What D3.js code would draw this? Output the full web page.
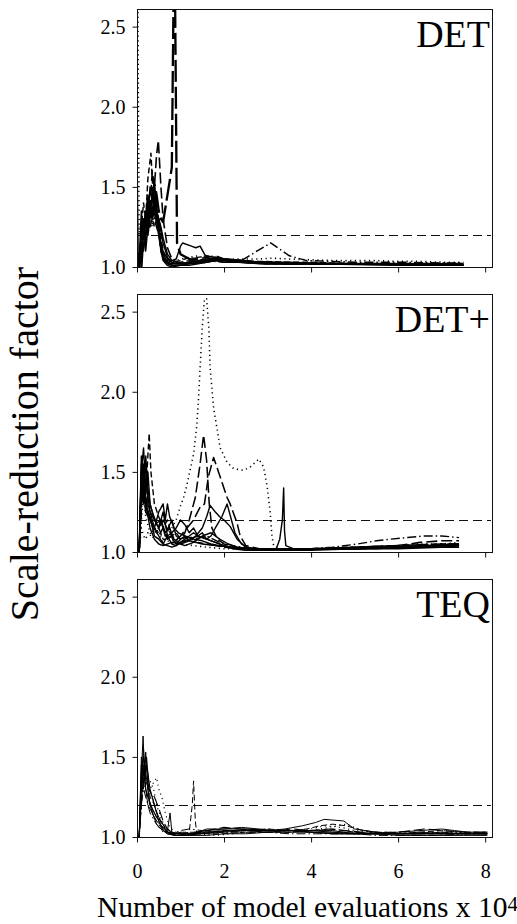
<!DOCTYPE html>
<html><head><meta charset="utf-8">
<script src="https://cdn.jsdelivr.net/npm/d3@7"></script>
<style>
body{margin:0;background:#fff} svg{display:block}
svg text{font-family:'Liberation Serif','Times New Roman',Times,serif;}
</style>
</head><body>
<svg id="chart" width="517" height="924"></svg>
<script>
// ---------------- data ----------------
const panelNames = ["DET", "DET+", "TEQ"];
const xTickValues = [0, 2, 4, 6, 8];
const xTickLabels = ["0", "2", "4", "6", "8"];
const yTickValues = [1.0, 1.5, 2.0, 2.5];
const yTickLabels = ["1.0", "1.5", "2.0", "2.5"];
const threshold = 1.2;
const yTitle = "Scale-reduction factor";
const xTitle = "Number of model evaluations x 10";
const xTitleExp = "4";

// each run: [x (x 10^4 evaluations), scale-reduction factor]
const detRuns = [
  [[0.05,1.0],[0.1,1.35],[0.15,1.2],[0.2,1.3],[0.25,1.25],[0.3,1.38],[0.35,1.3],[0.4,1.35],[0.45,1.28],[0.5,1.3],[0.55,1.22],[0.6,1.15],[0.7,1.06],[0.8,1.03],[0.9,1.02],[1.0,1.02],[1.2,1.03],[1.4,1.04],[1.6,1.05],[1.8,1.06],[2.0,1.05],[2.4,1.04],[2.8,1.03],[3.5,1.03],[4.0,1.025],[5.0,1.02],[6.0,1.02],[7.0,1.015],[7.5,1.015]],
  [[0.05,1.0],[0.1,1.2],[0.15,1.3],[0.2,1.15],[0.25,1.4],[0.3,1.3],[0.35,1.45],[0.4,1.5],[0.45,1.35],[0.5,1.3],[0.55,1.25],[0.6,1.18],[0.7,1.08],[0.8,1.04],[0.9,1.05],[1.0,1.13],[1.05,1.15],[1.25,1.13],[1.35,1.12],[1.45,1.13],[1.55,1.08],[1.68,1.04],[1.8,1.04],[2.0,1.03],[2.4,1.03],[3.0,1.02],[4.0,1.02],[5.0,1.02],[6.0,1.015],[7.0,1.01],[7.5,1.01]],
  [[0.05,1.0],[0.1,1.25],[0.15,1.4],[0.2,1.3],[0.25,1.55],[0.32,1.71],[0.37,1.45],[0.42,1.3],[0.47,1.35],[0.52,1.25],[0.57,1.15],[0.62,1.08],[0.7,1.04],[0.8,1.03],[1.0,1.04],[1.2,1.06],[1.4,1.05],[1.6,1.04],[2.0,1.03],[2.4,1.03],[3.0,1.02],[4.0,1.02],[5.0,1.02],[6.0,1.015],[7.0,1.01],[7.5,1.01]],
  [[0.05,1.0],[0.1,1.1],[0.15,1.3],[0.2,1.25],[0.25,1.45],[0.3,1.35],[0.35,1.6],[0.4,1.5],[0.45,1.7],[0.49,1.79],[0.55,1.5],[0.6,1.3],[0.7,1.12],[0.8,1.05],[0.9,1.03],[1.0,1.02],[1.2,1.03],[1.4,1.05],[1.6,1.06],[1.8,1.07],[2.0,1.05],[2.4,1.04],[2.8,1.03],[3.5,1.02],[4.0,1.02],[5.0,1.02],[6.0,1.02],[7.0,1.015],[7.5,1.015]],
  [[0.1,1.0],[0.15,1.2],[0.2,1.3],[0.25,1.25],[0.3,1.35],[0.35,1.4],[0.4,1.52],[0.45,1.45],[0.5,1.35],[0.55,1.3],[0.6,1.28],[0.7,1.45],[0.8,1.62],[0.86,3.2],[0.92,1.15],[1.0,1.08],[1.2,1.05],[1.4,1.04],[1.6,1.04],[1.8,1.05],[2.0,1.04],[2.4,1.03],[2.8,1.03],[3.5,1.02],[4.0,1.02],[5.0,1.02],[6.0,1.02],[7.0,1.02],[7.5,1.02]],
  [[0,3.5],[0.05,1.2],[0.1,1.3],[0.15,1.15],[0.2,1.25],[0.25,1.2],[0.3,1.3],[0.35,1.25],[0.4,1.35],[0.45,1.3],[0.5,1.2],[0.55,1.15],[0.6,1.1],[0.7,1.05],[0.8,1.03],[1.0,1.05],[1.2,1.06],[1.4,1.07],[1.6,1.05],[1.8,1.06],[2.0,1.05],[2.4,1.05],[2.8,1.05],[3.1,1.055],[3.5,1.05],[4.0,1.045],[4.5,1.04],[5.0,1.04],[5.5,1.04],[6.0,1.035],[6.5,1.035],[7.0,1.03],[7.5,1.03]],
  [[0,1.71],[0.03,1.0],[0.1,1.2],[0.15,1.3],[0.2,1.1],[0.25,1.25],[0.3,1.35],[0.35,1.3],[0.4,1.42],[0.45,1.3],[0.5,1.2],[0.55,1.12],[0.6,1.06],[0.7,1.03],[0.8,1.02],[1.0,1.02],[1.4,1.03],[1.6,1.03],[1.8,1.04],[2.0,1.04],[2.4,1.03],[3.0,1.02],[4.0,1.02],[5.0,1.015],[6.0,1.01],[7.0,1.01],[7.5,1.01]],
  [[0.05,1.0],[0.1,1.15],[0.15,1.25],[0.2,1.35],[0.25,1.2],[0.3,1.3],[0.35,1.4],[0.4,1.3],[0.45,1.25],[0.5,1.2],[0.55,1.15],[0.6,1.1],[0.7,1.05],[0.8,1.03],[1.0,1.02],[1.2,1.03],[1.6,1.04],[2.0,1.05],[2.4,1.04],[2.7,1.09],[3.07,1.15],[3.5,1.07],[3.9,1.04],[4.5,1.035],[5.0,1.03],[6.0,1.03],[7.0,1.025],[7.5,1.025]],
  [[0.1,1.0],[0.15,1.25],[0.2,1.35],[0.25,1.3],[0.3,1.5],[0.35,1.4],[0.4,1.52],[0.45,1.38],[0.5,1.25],[0.55,1.15],[0.6,1.08],[0.7,1.03],[0.8,1.01],[1.0,1.01],[1.2,1.02],[1.4,1.03],[1.6,1.04],[1.8,1.06],[2.0,1.05],[2.4,1.04],[2.8,1.03],[3.5,1.02],[4.5,1.02],[5.5,1.02],[6.5,1.015],[7.5,1.01]],
  [[0.05,1.0],[0.1,1.3],[0.15,1.1],[0.2,1.2],[0.25,1.35],[0.3,1.25],[0.35,1.3],[0.4,1.38],[0.45,1.33],[0.5,1.22],[0.55,1.12],[0.6,1.06],[0.7,1.02],[0.8,1.01],[1.0,1.01],[1.2,1.01],[1.4,1.02],[1.6,1.03],[1.8,1.05],[2.0,1.04],[2.4,1.03],[3.0,1.03],[3.5,1.025],[4.5,1.02],[5.5,1.02],[6.5,1.02],[7.5,1.02]],
  [[0.05,1.0],[0.1,1.12],[0.15,1.22],[0.2,1.3],[0.25,1.45],[0.3,1.35],[0.35,1.3],[0.4,1.25],[0.45,1.3],[0.5,1.22],[0.55,1.1],[0.6,1.05],[0.7,1.02],[0.8,1.02],[1.0,1.03],[1.2,1.04],[1.4,1.06],[1.6,1.07],[1.8,1.06],[2.0,1.05],[2.4,1.04],[2.8,1.035],[3.5,1.03],[4.0,1.03],[4.5,1.025],[5.5,1.02],[6.5,1.02],[7.5,1.02]],
  [[0.05,1.0],[0.1,1.1],[0.15,1.2],[0.2,1.28],[0.25,1.2],[0.3,1.4],[0.35,1.32],[0.4,1.45],[0.45,1.3],[0.5,1.2],[0.55,1.1],[0.6,1.04],[0.7,1.01],[0.8,1.0],[1.0,1.01],[1.2,1.02],[1.6,1.03],[1.8,1.04],[2.0,1.04],[2.4,1.03],[2.8,1.02],[3.5,1.02],[4.5,1.02],[5.5,1.015],[6.5,1.01],[7.5,1.01]]
];
const detTypes = ["solid","solid","dash","longdash","heavy","dot","solid","dashdot","solid","solid","dash","solid"];

const detPlusRuns = [
  [[0.05,1.0],[0.1,1.45],[0.15,1.3],[0.2,1.6],[0.25,1.4],[0.3,1.3],[0.4,1.2],[0.5,1.15],[0.6,1.25],[0.7,1.1],[0.8,1.05],[0.9,1.04],[1.0,1.06],[1.2,1.08],[1.4,1.1],[1.6,1.08],[1.8,1.06],[2.0,1.04],[2.2,1.02],[2.5,1.01],[3.0,1.01],[3.5,1.02],[4.0,1.02],[4.5,1.02],[5.0,1.02],[5.5,1.03],[6.0,1.03],[6.5,1.03],[7.0,1.04],[7.4,1.04]],
  [[0.05,1.0],[0.1,1.5],[0.15,1.65],[0.2,1.4],[0.25,1.5],[0.3,1.3],[0.35,1.25],[0.45,1.18],[0.55,1.2],[0.65,1.12],[0.75,1.15],[0.85,1.08],[1.0,1.05],[1.1,1.04],[1.3,1.06],[1.5,1.1],[1.7,1.12],[1.9,1.08],[2.1,1.05],[2.3,1.03],[2.6,1.02],[3.0,1.02],[3.5,1.02],[4.0,1.02],[5.0,1.02],[6.0,1.03],[7.0,1.04],[7.4,1.05]],
  [[0.05,1.0],[0.1,1.3],[0.15,1.45],[0.2,1.35],[0.25,1.6],[0.28,1.74],[0.32,1.5],[0.4,1.3],[0.5,1.22],[0.6,1.15],[0.7,1.2],[0.8,1.1],[0.9,1.12],[1.0,1.08],[1.2,1.1],[1.4,1.06],[1.6,1.05],[1.8,1.04],[2.0,1.03],[2.4,1.02],[3.0,1.02],[4.0,1.02],[5.0,1.03],[6.0,1.04],[7.0,1.05],[7.4,1.05]],
  [[0.05,1.0],[0.1,1.2],[0.15,1.35],[0.2,1.22],[0.3,1.12],[0.4,1.08],[0.5,1.1],[0.6,1.06],[0.7,1.12],[0.8,1.15],[0.9,1.2],[0.99,1.28],[1.07,1.34],[1.14,1.41],[1.22,1.51],[1.3,1.61],[1.37,1.78],[1.41,1.94],[1.45,2.15],[1.5,2.4],[1.55,2.58],[1.6,2.58],[1.65,2.4],[1.68,2.15],[1.76,1.9],[1.91,1.65],[2.07,1.56],[2.22,1.52],[2.45,1.51],[2.6,1.53],[2.8,1.58],[2.91,1.53],[2.99,1.41],[3.06,1.25],[3.1,1.1],[3.14,1.04],[3.3,1.02],[3.6,1.02],[4.0,1.02],[4.5,1.02],[5.0,1.03],[5.5,1.03],[6.0,1.04],[6.5,1.05],[7.0,1.05],[7.4,1.06]],
  [[0.05,1.0],[0.1,1.4],[0.15,1.55],[0.2,1.3],[0.3,1.2],[0.4,1.15],[0.5,1.1],[0.6,1.15],[0.7,1.08],[0.8,1.1],[0.9,1.05],[1.0,1.08],[1.1,1.12],[1.2,1.2],[1.34,1.34],[1.45,1.55],[1.53,1.73],[1.6,1.57],[1.66,1.3],[1.72,1.15],[1.85,1.08],[2.0,1.05],[2.3,1.03],[2.6,1.02],[3.0,1.02],[4.0,1.02],[5.0,1.03],[6.0,1.04],[6.5,1.06],[7.0,1.07],[7.4,1.07]],
  [[0.05,1.0],[0.1,1.3],[0.15,1.5],[0.2,1.35],[0.25,1.25],[0.35,1.18],[0.45,1.12],[0.55,1.2],[0.65,1.1],[0.75,1.13],[0.85,1.06],[1.0,1.1],[1.15,1.15],[1.3,1.2],[1.45,1.28],[1.55,1.3],[1.64,1.47],[1.76,1.59],[1.91,1.47],[2.07,1.34],[2.14,1.3],[2.3,1.18],[2.37,1.1],[2.5,1.04],[2.8,1.02],[3.2,1.02],[4.0,1.02],[5.0,1.03],[6.0,1.04],[7.0,1.05],[7.4,1.05]],
  [[0.05,1.0],[0.1,1.55],[0.15,1.35],[0.2,1.45],[0.3,1.25],[0.4,1.2],[0.5,1.15],[0.6,1.2],[0.7,1.14],[0.8,1.2],[0.9,1.1],[1.0,1.08],[1.1,1.1],[1.2,1.07],[1.35,1.1],[1.5,1.15],[1.6,1.22],[1.68,1.29],[1.8,1.25],[1.9,1.22],[2.0,1.2],[2.14,1.16],[2.3,1.08],[2.5,1.03],[2.8,1.02],[3.5,1.02],[4.5,1.02],[5.5,1.03],[6.5,1.04],[7.4,1.05]],
  [[0.05,1.0],[0.1,1.42],[0.15,1.5],[0.2,1.3],[0.3,1.22],[0.4,1.1],[0.5,1.08],[0.6,1.05],[0.7,1.1],[0.8,1.12],[0.9,1.15],[1.0,1.2],[1.1,1.17],[1.2,1.12],[1.3,1.15],[1.4,1.1],[1.5,1.12],[1.6,1.08],[1.7,1.1],[1.8,1.15],[1.95,1.22],[2.07,1.3],[2.15,1.22],[2.25,1.12],[2.4,1.05],[2.6,1.02],[3.0,1.01],[4.0,1.02],[5.0,1.02],[6.0,1.03],[7.0,1.04],[7.4,1.04]],
  [[0.05,1.0],[0.1,1.35],[0.15,1.55],[0.2,1.3],[0.3,1.15],[0.4,1.08],[0.5,1.05],[0.6,1.04],[0.8,1.06],[1.0,1.05],[1.2,1.07],[1.5,1.05],[1.8,1.04],[2.2,1.03],[2.6,1.02],[3.0,1.01],[3.2,1.02],[3.28,1.08],[3.34,1.2],[3.37,1.4],[3.39,1.13],[3.42,1.04],[3.6,1.02],[4.0,1.02],[4.5,1.02],[5.0,1.02],[5.5,1.02],[6.0,1.03],[6.5,1.03],[7.0,1.03],[7.4,1.03]],
  [[0.05,1.0],[0.1,1.25],[0.15,1.45],[0.2,1.25],[0.3,1.2],[0.4,1.12],[0.5,1.15],[0.6,1.08],[0.8,1.1],[1.0,1.06],[1.3,1.08],[1.6,1.1],[1.9,1.06],[2.2,1.04],[2.6,1.02],[3.0,1.02],[3.5,1.02],[4.0,1.02],[4.5,1.03],[5.06,1.05],[5.5,1.07],[5.83,1.08],[6.2,1.09],[6.6,1.1],[7.0,1.1],[7.4,1.09]],
  [[0.05,1.0],[0.1,1.6],[0.15,1.45],[0.2,1.55],[0.25,1.3],[0.3,1.25],[0.4,1.15],[0.5,1.1],[0.6,1.05],[0.7,1.04],[0.8,1.03],[0.9,1.04],[1.0,1.06],[1.1,1.08],[1.2,1.1],[1.3,1.12],[1.4,1.1],[1.6,1.08],[1.8,1.06],[2.0,1.04],[2.3,1.02],[2.6,1.01],[3.0,1.01],[4.0,1.01],[5.0,1.02],[6.0,1.02],[7.0,1.03],[7.4,1.03]],
  [[0.05,1.0],[0.1,1.5],[0.15,1.4],[0.2,1.25],[0.3,1.2],[0.4,1.15],[0.5,1.25],[0.6,1.3],[0.65,1.2],[0.7,1.3],[0.75,1.22],[0.85,1.15],[0.95,1.12],[1.1,1.1],[1.3,1.08],[1.5,1.07],[1.7,1.05],[1.9,1.04],[2.2,1.03],[2.6,1.02],[3.0,1.02],[4.0,1.02],[5.0,1.02],[6.0,1.03],[7.0,1.03],[7.4,1.04]],
  [[0.05,1.0],[0.1,1.15],[0.15,1.1],[0.2,1.08],[0.25,1.12],[0.3,1.1],[0.4,1.15],[0.5,1.12],[0.6,1.08],[0.8,1.06],[1.0,1.05],[1.3,1.04],[1.6,1.03],[2.0,1.02],[3.0,1.02],[4.0,1.02],[5.0,1.02],[6.0,1.03],[7.0,1.04],[7.4,1.04]]
];
const detPlusTypes = ["solid","solid","dash","dot","longdash","longdash","solid","solid","solid","dashdot","solid","solid","dot"];

const teqRuns = [
  [[0.05,1.0],[0.1,1.3],[0.15,1.5],[0.2,1.4],[0.25,1.3],[0.3,1.2],[0.4,1.15],[0.5,1.1],[0.6,1.05],[0.7,1.03],[0.8,1.02],[1.0,1.02],[1.3,1.02],[1.6,1.03],[2.0,1.04],[2.5,1.04],[3.0,1.04],[3.5,1.04],[4.0,1.03],[4.5,1.03],[5.0,1.02],[5.5,1.02],[6.0,1.02],[6.5,1.02],[7.0,1.02],[7.5,1.02],[8.05,1.02]],
  [[0.05,1.0],[0.1,1.4],[0.14,1.63],[0.18,1.35],[0.22,1.5],[0.28,1.3],[0.35,1.25],[0.45,1.15],[0.55,1.1],[0.65,1.05],[0.75,1.02],[0.9,1.01],[1.1,1.01],[1.4,1.02],[1.8,1.03],[2.2,1.04],[2.6,1.05],[3.0,1.04],[3.5,1.04],[4.0,1.04],[4.5,1.03],[5.0,1.03],[5.5,1.02],[6.0,1.02],[6.5,1.02],[7.0,1.03],[7.5,1.02],[8.05,1.02]],
  [[0.05,1.0],[0.1,1.3],[0.15,1.45],[0.2,1.35],[0.3,1.3],[0.4,1.35],[0.45,1.37],[0.5,1.3],[0.57,1.25],[0.65,1.15],[0.75,1.06],[0.9,1.03],[1.1,1.02],[1.5,1.03],[2.0,1.03],[2.5,1.04],[3.0,1.05],[3.5,1.04],[4.0,1.05],[4.3,1.07],[4.7,1.06],[5.0,1.04],[5.5,1.03],[6.0,1.03],[6.5,1.03],[7.0,1.03],[7.5,1.03],[8.05,1.03]],
  [[0.05,1.0],[0.1,1.25],[0.15,1.45],[0.2,1.3],[0.3,1.2],[0.4,1.12],[0.5,1.08],[0.6,1.04],[0.8,1.02],[1.0,1.02],[1.2,1.03],[1.27,1.2],[1.3,1.35],[1.34,1.1],[1.37,1.03],[1.6,1.02],[2.0,1.02],[2.5,1.03],[3.0,1.03],[3.5,1.03],[4.0,1.04],[4.5,1.05],[5.0,1.03],[5.5,1.02],[6.0,1.02],[7.0,1.02],[8.05,1.02]],
  [[0.05,1.0],[0.1,1.35],[0.15,1.55],[0.2,1.3],[0.25,1.2],[0.35,1.15],[0.45,1.08],[0.55,1.05],[0.7,1.02],[0.9,1.01],[1.2,1.02],[1.6,1.04],[2.0,1.05],[2.5,1.05],[3.0,1.04],[3.4,1.05],[3.8,1.07],[4.1,1.09],[4.3,1.11],[4.75,1.1],[5.0,1.05],[5.5,1.03],[6.0,1.02],[6.5,1.02],[7.0,1.02],[7.5,1.02],[8.05,1.02]],
  [[0.05,1.0],[0.1,1.2],[0.15,1.4],[0.2,1.5],[0.25,1.35],[0.3,1.25],[0.4,1.2],[0.5,1.12],[0.6,1.06],[0.7,1.03],[0.9,1.02],[1.2,1.02],[1.5,1.03],[2.0,1.04],[2.5,1.04],[3.0,1.05],[3.5,1.04],[3.9,1.05],[4.2,1.07],[4.5,1.08],[4.8,1.07],[5.2,1.04],[5.5,1.03],[6.0,1.02],[6.5,1.03],[7.0,1.04],[7.5,1.03],[8.05,1.03]],
  [[0.05,1.0],[0.1,1.45],[0.15,1.3],[0.2,1.53],[0.25,1.3],[0.3,1.2],[0.35,1.15],[0.45,1.1],[0.6,1.06],[0.7,1.04],[0.76,1.15],[0.8,1.03],[1.0,1.02],[1.3,1.02],[1.6,1.05],[2.0,1.05],[2.4,1.06],[2.8,1.05],[3.2,1.04],[3.6,1.04],[4.0,1.03],[4.5,1.02],[5.0,1.02],[5.5,1.02],[6.0,1.03],[6.5,1.04],[7.0,1.05],[7.3,1.04],[7.6,1.03],[8.05,1.03]],
  [[0.05,1.0],[0.1,1.2],[0.15,1.35],[0.2,1.25],[0.3,1.35],[0.38,1.3],[0.45,1.2],[0.55,1.12],[0.65,1.06],[0.8,1.03],[1.0,1.02],[1.4,1.02],[1.8,1.01],[2.2,1.02],[2.6,1.03],[3.0,1.04],[3.5,1.03],[4.0,1.04],[4.4,1.06],[4.8,1.08],[5.2,1.04],[5.6,1.02],[6.0,1.02],[6.5,1.02],[7.0,1.03],[7.5,1.03],[8.05,1.02]],
  [[0.05,1.0],[0.1,1.5],[0.15,1.4],[0.2,1.3],[0.25,1.25],[0.35,1.18],[0.45,1.12],[0.55,1.1],[0.65,1.06],[0.75,1.03],[0.9,1.01],[1.2,1.01],[1.6,1.01],[2.0,1.02],[2.5,1.02],[3.0,1.03],[3.5,1.03],[4.0,1.03],[4.5,1.02],[5.0,1.02],[5.5,1.02],[6.0,1.01],[6.5,1.01],[7.0,1.01],[7.5,1.01],[8.05,1.01]],
  [[0.05,1.0],[0.1,1.3],[0.15,1.4],[0.2,1.35],[0.3,1.28],[0.4,1.25],[0.5,1.18],[0.6,1.1],[0.7,1.05],[0.85,1.02],[1.0,1.03],[1.3,1.03],[1.6,1.04],[2.0,1.06],[2.4,1.05],[2.8,1.04],[3.2,1.04],[3.6,1.05],[4.0,1.04],[4.4,1.05],[4.8,1.04],[5.2,1.03],[5.6,1.03],[6.0,1.03],[6.6,1.05],[7.0,1.04],[7.5,1.03],[8.05,1.03]],
  [[0.05,1.0],[0.1,1.25],[0.15,1.35],[0.2,1.45],[0.25,1.4],[0.3,1.3],[0.4,1.2],[0.5,1.1],[0.6,1.04],[0.7,1.02],[0.85,1.01],[1.1,1.01],[1.5,1.02],[2.0,1.03],[2.5,1.04],[3.0,1.03],[3.5,1.04],[4.0,1.04],[4.5,1.04],[5.0,1.02],[5.5,1.02],[6.0,1.02],[6.5,1.03],[7.0,1.02],[7.5,1.02],[8.05,1.02]],
  [[0.05,1.0],[0.1,1.2],[0.15,1.3],[0.2,1.25],[0.3,1.15],[0.4,1.1],[0.5,1.06],[0.6,1.03],[0.8,1.02],[1.0,1.04],[1.2,1.05],[1.5,1.04],[2.0,1.03],[2.5,1.03],[3.0,1.03],[3.5,1.02],[4.0,1.02],[4.5,1.02],[5.0,1.02],[5.5,1.01],[6.0,1.01],[6.5,1.01],[7.0,1.01],[7.5,1.02],[8.05,1.02]]
];
const teqTypes = ["solid","solid","dot","dash","solid","dash","solid","dot","solid","longdash","solid","dashdot"];

// ---------------- layout / style (not data) ----------------
const FONT = "'Liberation Serif','Times New Roman',Times,serif";
const plotLeft = 137, plotRight = 493;
const panelTops = [9, 294, 579];
const panelH = 258;
const lineWidths = [1.45, 1.4, 1.0];
const lineStyles = {
  solid:    {dash: null,          w: 1},
  dash:     {dash: "6,3",         w: 1},
  longdash: {dash: "11,4",        w: 1.1},
  heavy:    {dash: "22,5",        w: 1.6},
  dot:      {dash: "1.2,3.5",     w: 1.1},
  dashdot:  {dash: "9,3,1.5,3",   w: 1}
};

const svg = d3.select("#chart");
const x = d3.scaleLinear().domain([0, 8.18]).range([plotLeft, plotRight]);

const panels = [
  {name: panelNames[0], runs: detRuns, types: detTypes},
  {name: panelNames[1], runs: detPlusRuns, types: detPlusTypes},
  {name: panelNames[2], runs: teqRuns, types: teqTypes}
];

function styleText(sel, size) {
  sel.style("font-family", FONT).style("font-size", size + "px").attr("fill", "#000");
}

panels.forEach((p, pi) => {
  const top = panelTops[pi];
  const y = d3.scaleLinear().domain([1, 2.61]).range([top + panelH, top]);
  const g = svg.append("g");

  const clipId = "clip" + pi;
  svg.append("clipPath").attr("id", clipId)
    .append("rect").attr("x", plotLeft).attr("y", top)
    .attr("width", plotRight - plotLeft).attr("height", panelH);

  // threshold line
  const ty = Math.round(y(threshold)) + 0.5;
  g.append("line")
    .attr("x1", x(0)).attr("x2", plotRight - 2)
    .attr("y1", ty).attr("y2", ty)
    .attr("stroke", "#111").attr("stroke-width", 1)
    .attr("shape-rendering", "crispEdges")
    .attr("stroke-dasharray", "9,5");

  const line = d3.line().x(d => x(d[0])).y(d => y(d[1]));
  const lg = g.append("g").attr("clip-path", `url(#${clipId})`);
  p.runs.forEach((run, ri) => {
    const st = lineStyles[p.types[ri]];
    lg.append("path")
      .attr("d", line(run))
      .attr("fill", "none")
      .attr("stroke", "#000")
      .attr("stroke-width", st.w * lineWidths[pi])
      .attr("stroke-linejoin", "round")
      .attr("stroke-dasharray", st.dash);
  });

  // frame
  g.append("rect")
    .attr("x", plotLeft + 0.5).attr("y", top + 0.5)
    .attr("width", plotRight - plotLeft - 1).attr("height", panelH)
    .attr("fill", "none").attr("stroke", "#111").attr("stroke-width", 1)
    .attr("shape-rendering", "crispEdges");

  // y axis
  const ya = g.append("g").attr("transform", `translate(${plotLeft + 0.5},0)`)
    .call(d3.axisLeft(y).tickValues(yTickValues).tickSize(5).tickPadding(7)
      .tickFormat((d, i) => yTickLabels[i]));
  ya.attr("font-family", null).attr("font-size", null);
  ya.select(".domain").remove();
  ya.selectAll("line").attr("stroke", "#111");
  styleText(ya.selectAll("text"), 20);

  // x axis
  const xa = g.append("g").attr("transform", `translate(0,${top + panelH + 0.5})`)
    .call(d3.axisBottom(x).tickValues(xTickValues).tickSize(5)
      .tickFormat((d, i) => pi === 2 ? xTickLabels[i] : ""));
  xa.attr("font-family", null).attr("font-size", null);
  xa.select(".domain").remove();
  xa.selectAll("line").attr("stroke", "#111");
  styleText(xa.selectAll("text"), 20);
  xa.selectAll("text").attr("y", 40).attr("dy", 0);

  // panel label
  const lab = g.append("text")
    .attr("x", 490).attr("y", top + 38)
    .attr("text-anchor", "end")
    .text(p.name);
  styleText(lab, 38);
});

// axis titles
const yt = svg.append("text")
  .attr("transform", "translate(38,444) rotate(-90)")
  .attr("text-anchor", "middle")
  .text(yTitle);
styleText(yt, 40);

const xt = svg.append("text")
  .attr("x", 97).attr("y", 917);
styleText(xt, 29.5);
xt.append("tspan").text(xTitle);
xt.append("tspan").attr("dy", -6).style("font-size", "21px").text(xTitleExp);
</script>
</body></html>
